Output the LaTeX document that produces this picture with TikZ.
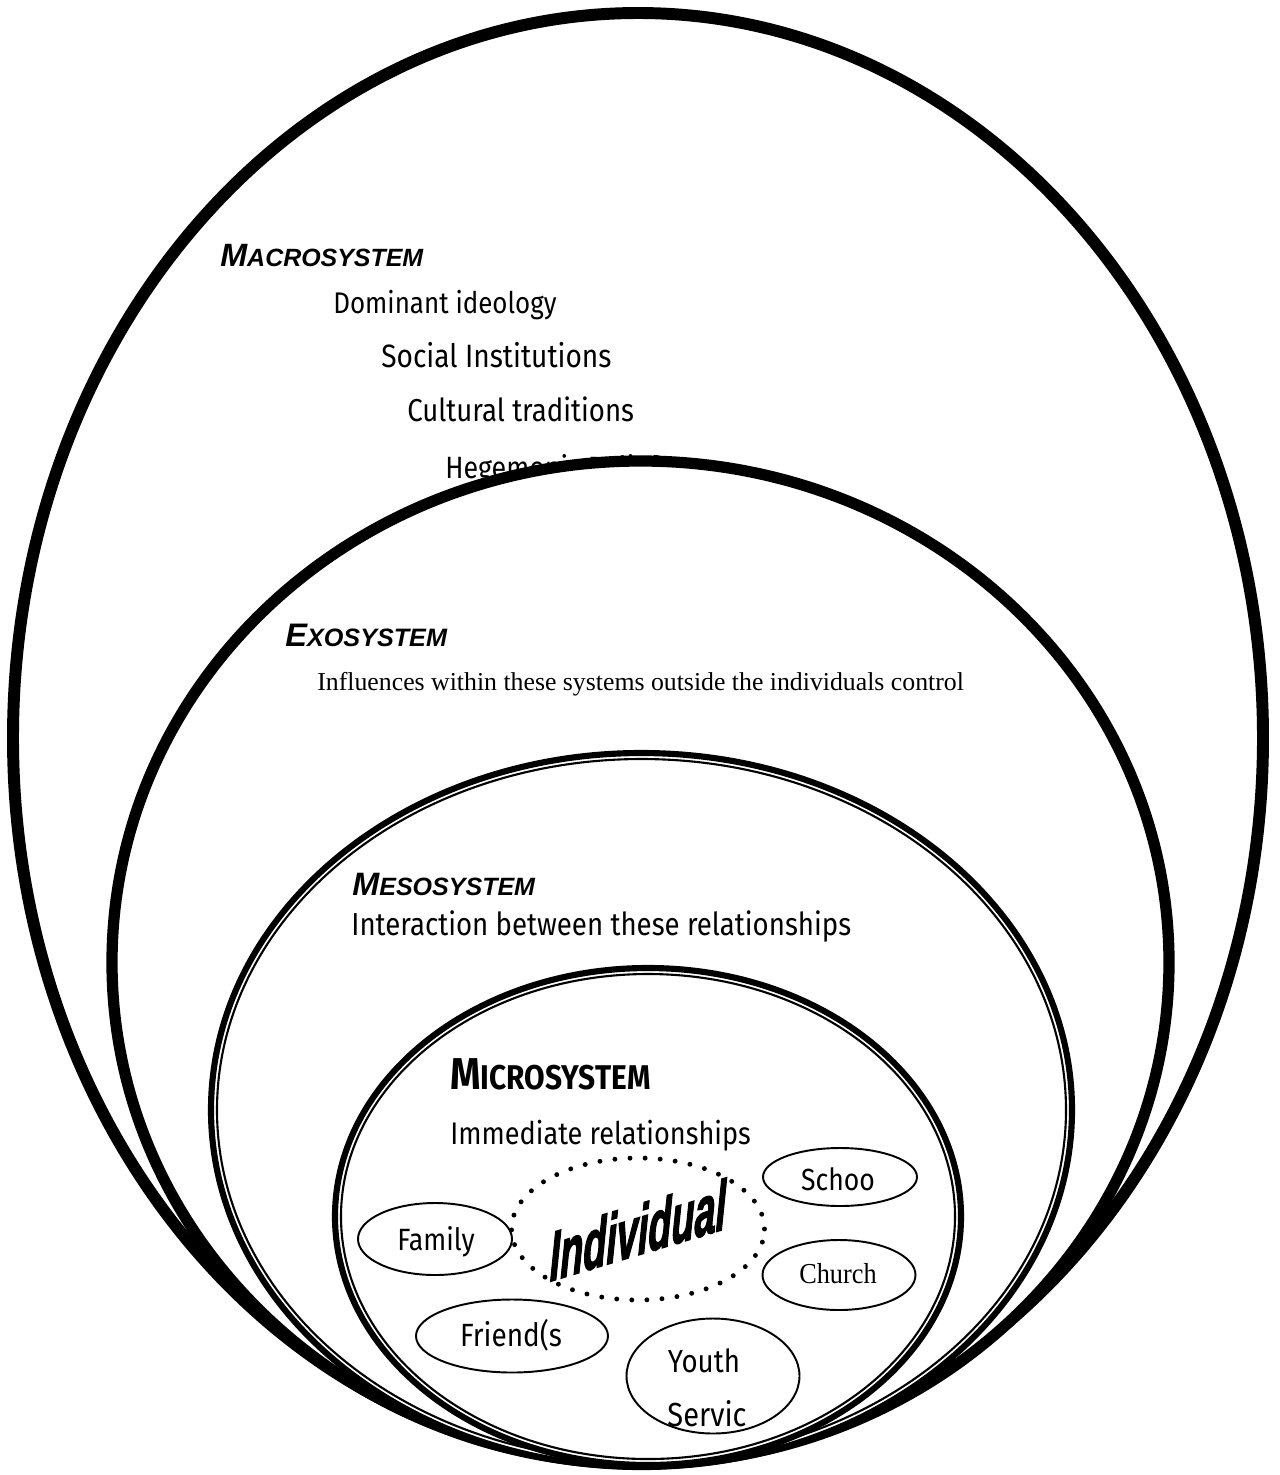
\documentclass[tikz,border=0pt]{standalone}
\usepackage{fontspec}
\usepackage{graphicx}
\setmainfont{Liberation Serif}
\newfontfamily\headfont{Liberation Sans}
\newfontfamily\comicfont{Fira Sans}
\newfontfamily\heavyfont[BoldItalicFeatures={FakeBold=2.5}]{Liberation Sans}
\usetikzlibrary{shapes.geometric}
\def\pxu{0.02cm}
\newcommand\fitw[2]{\resizebox{#1}{!}{#2}}
\newcommand\sysname[2]{{\fontsize{18.5}{18.5}\selectfont #1}{\fontsize{14.3}{14.3}\selectfont #2}}
\begin{document}
\begin{tikzpicture}[x=0.02cm,y=-0.02cm,
  macro/.style={line width=6.8pt},
  exo/.style={line width=6.4pt, fill=white},
  dblout/.style={line width=3.5pt, fill=white},
  dblin/.style={line width=1.2pt},
  smallell/.style={draw, line width=1.1pt, ellipse, inner sep=0pt},
  dotring/.style={draw, ellipse, inner sep=0pt, line width=2.8pt, dash pattern=on 0pt off 8.6pt, line cap=round},
  lefttext/.style={anchor=base west, inner sep=0pt},
  ctext/.style={anchor=base, inner sep=0pt, font=\comicfont, yscale=1.15},
  headtext/.style={anchor=base west, inner sep=0pt, font=\headfont\bfseries\itshape},
  comictext/.style={anchor=base west, inner sep=0pt, font=\comicfont, yscale=1.15}]
\useasboundingbox (0,0) rectangle (1279,1475);
\fill[white] (0,0) rectangle (1279,1475);

% Macrosystem
\draw[macro] (638,738) ellipse [x radius=625*\pxu, y radius=725*\pxu];
\node[headtext] (macrolbl) at (220,266) {\fitw{115.5pt}{\sysname{M}{ACROSYSTEM}}};
\node[comictext] (dom) at (333,313) {\fitw{127pt}{Dominant ideology}};
\node[comictext] (soc) at (381,367) {\fitw{131pt}{Social Institutions}};
\node[comictext] (cul) at (407,421) {\fitw{129pt}{Cultural traditions}};
\node[comictext] (heg) at (445,478) {\fitw{128pt}{Hegemonic Beliefs}};

% Exosystem
\draw[exo] (640.5,962.5) ellipse [x radius=528.5*\pxu, y radius=501.5*\pxu];
\node[headtext] (exolbl) at (285,646) {\fitw{92pt}{\sysname{E}{XOSYSTEM}}};
\node[lefttext] (infl) at (317,690) {\fitw{368pt}{Influences within these systems outside the individuals control}};

% Mesosystem
\draw[dblout] (641.5,1110) ellipse [x radius=430.5*\pxu, y radius=357*\pxu];
\draw[dblin] (641.5,1110) ellipse [x radius=424.5*\pxu, y radius=351*\pxu];
\node[headtext] (mesolbl) at (352,895) {\fitw{104pt}{\sysname{M}{ESOSYSTEM}}};
\node[comictext] (inter) at (351,935) {\fitw{284.5pt}{Interaction between these relationships}};

% Microsystem
\draw[dblout] (648,1216.5) ellipse [x radius=313*\pxu, y radius=248.5*\pxu];
\draw[dblin] (648,1216.5) ellipse [x radius=307*\pxu, y radius=242.5*\pxu];
\node[comictext] (microlbl) at (450,1089) {\fitw{114pt}{\bfseries{\fontsize{13}{13}\selectfont M}{\fontsize{10}{10}\selectfont ICROSYSTEM}}};
\node[comictext] (imm) at (450,1144) {\fitw{171pt}{Immediate relationships}};

% Inner ellipses
\node[dotring, minimum width=253*\pxu, minimum height=142*\pxu] (indiv) at (638,1229) {};
\node[smallell, minimum width=154*\pxu, minimum height=58*\pxu] (school) at (840,1177) {};
\node[smallell, minimum width=154*\pxu, minimum height=72*\pxu] (family) at (435,1239) {};
\node[smallell, minimum width=153*\pxu, minimum height=70*\pxu] (church) at (839,1275) {};
\node[smallell, minimum width=192*\pxu, minimum height=73*\pxu] (friends) at (512,1336) {};
\node[smallell, minimum width=173*\pxu, minimum height=115*\pxu] (youth) at (713,1376) {};

\node[ctext] (schooltxt) at (838,1190) {\fitw{42pt}{Schoo}};
\node[ctext] (familytxt) at (436,1250) {\fitw{44pt}{Family}};
\node[anchor=base, inner sep=0pt, yscale=1.1] (churchtxt) at (838,1283) {\fitw{44pt}{Church}};
\node[ctext] (friendstxt) at (511,1346) {\fitw{58pt}{Friend(s}};
\node[ctext] (youthtxt) at (704,1372) {\fitw{41pt}{Youth}};
\node[ctext] (servictxt) at (707,1426) {\fitw{45pt}{Servic}};

\node[inner sep=0pt, font=\heavyfont\bfseries\itshape\fontsize{21.5}{21.5}\selectfont, yslant=0.3, yscale=1.85] (indivtxt) at (638,1230) {Individual};
\end{tikzpicture}
\end{document}
